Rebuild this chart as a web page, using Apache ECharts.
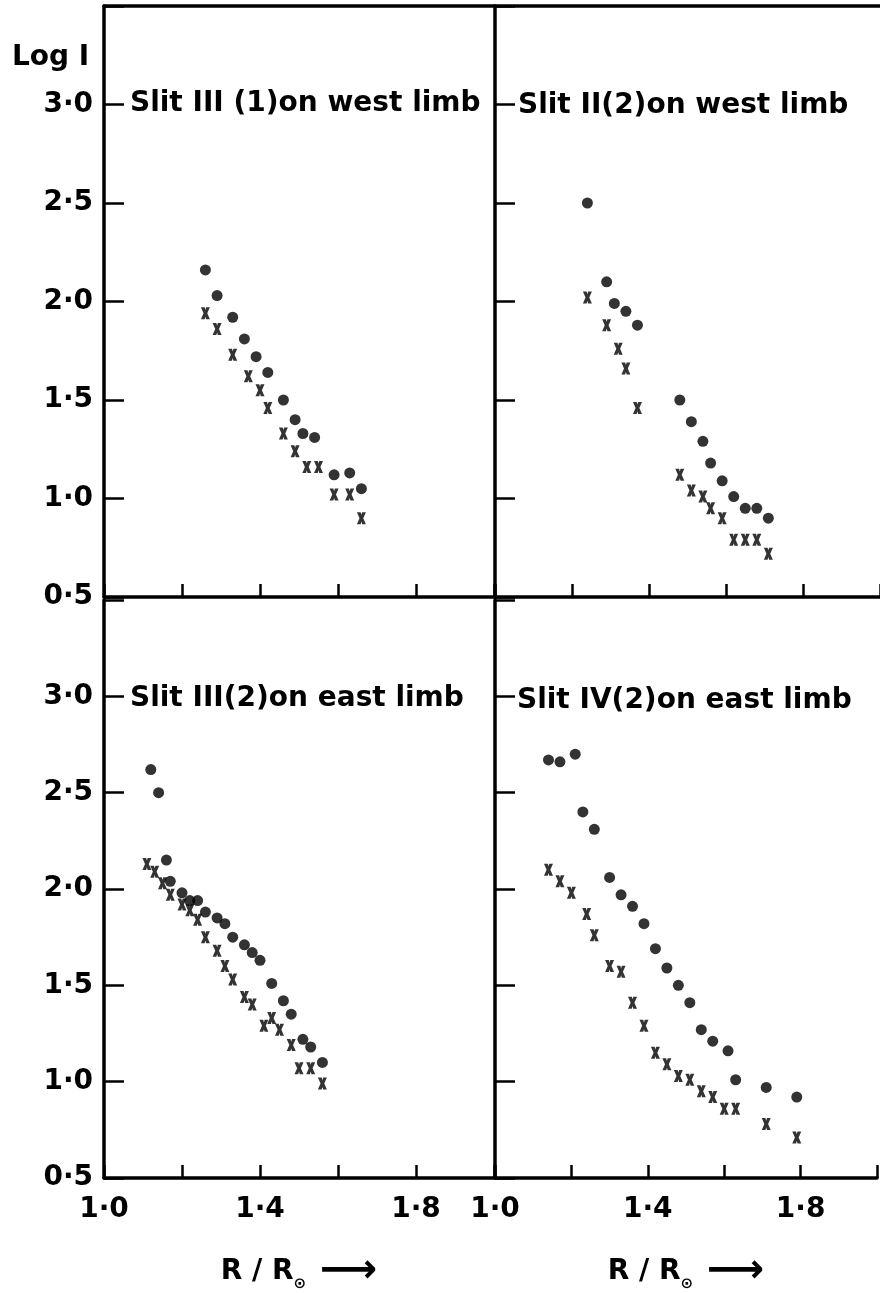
<!DOCTYPE html>
<html>
<head>
<meta charset="utf-8">
<script src="https://cdn.jsdelivr.net/npm/echarts@6/dist/echarts.min.js"></script>
<style>
  html, body { margin: 0; padding: 0; background: #ffffff; }
  #chart { width: 880px; height: 1293px; }
</style>
</head>
<body>
<div id="chart"></div>
<script>
// ---------- data ----------
const panelTitles = ['Slit III (1)on west limb', 'Slit II(2)on west limb', 'Slit III(2)on east limb', 'Slit IV(2)on east limb'];
const yAxisTitle = 'Log I';

const xTickValues = [1.0, 1.4, 1.8];
const xTickLabels = ['1·0', '1·4', '1·8'];
const yTickValues = [0.5, 1.0, 1.5, 2.0, 2.5, 3.0];
const yTickLabels = ['0·5', '1·0', '1·5', '2·0', '2·5', '3·0'];

// Slit III(1) on west limb (top-left)
const tlDotX   = [1.26, 1.29, 1.33, 1.36, 1.39, 1.42, 1.46, 1.49, 1.51, 1.54, 1.59, 1.63, 1.66];
const tlDotY   = [2.16, 2.03, 1.92, 1.81, 1.72, 1.64, 1.50, 1.40, 1.33, 1.31, 1.12, 1.13, 1.05];
const tlCrossX = [1.26, 1.29, 1.33, 1.37, 1.40, 1.42, 1.46, 1.49, 1.52, 1.55, 1.59, 1.63, 1.66];
const tlCrossY = [1.94, 1.86, 1.73, 1.62, 1.55, 1.46, 1.33, 1.24, 1.16, 1.16, 1.02, 1.02, 0.90];

// Slit II(2) on west limb (top-right)
const trDotX   = [1.24, 1.29, 1.31, 1.34, 1.37, 1.48, 1.51, 1.54, 1.56, 1.59, 1.62, 1.65, 1.68, 1.71];
const trDotY   = [2.50, 2.10, 1.99, 1.95, 1.88, 1.50, 1.39, 1.29, 1.18, 1.09, 1.01, 0.95, 0.95, 0.90];
const trCrossX = [1.24, 1.29, 1.32, 1.34, 1.37, 1.48, 1.51, 1.54, 1.56, 1.59, 1.62, 1.65, 1.68, 1.71];
const trCrossY = [2.02, 1.88, 1.76, 1.66, 1.46, 1.12, 1.04, 1.01, 0.95, 0.90, 0.79, 0.79, 0.79, 0.72];

// Slit III(2) on east limb (bottom-left)
const blDotX   = [1.12, 1.14, 1.16, 1.17, 1.20, 1.22, 1.24, 1.26, 1.29, 1.31, 1.33, 1.36, 1.38, 1.40, 1.43, 1.46, 1.48, 1.51, 1.53, 1.56];
const blDotY   = [2.62, 2.50, 2.15, 2.04, 1.98, 1.94, 1.94, 1.88, 1.85, 1.82, 1.75, 1.71, 1.67, 1.63, 1.51, 1.42, 1.35, 1.22, 1.18, 1.10];
const blCrossX = [1.11, 1.13, 1.15, 1.17, 1.20, 1.22, 1.24, 1.26, 1.29, 1.31, 1.33, 1.36, 1.38, 1.41, 1.43, 1.45, 1.48, 1.50, 1.53, 1.56];
const blCrossY = [2.13, 2.09, 2.03, 1.97, 1.92, 1.89, 1.84, 1.75, 1.68, 1.60, 1.53, 1.44, 1.40, 1.29, 1.33, 1.27, 1.19, 1.07, 1.07, 0.99];

// Slit IV(2) on east limb (bottom-right)
const brDotX   = [1.14, 1.17, 1.21, 1.23, 1.26, 1.30, 1.33, 1.36, 1.39, 1.42, 1.45, 1.48, 1.51, 1.54, 1.57, 1.61, 1.63, 1.71, 1.79];
const brDotY   = [2.67, 2.66, 2.70, 2.40, 2.31, 2.06, 1.97, 1.91, 1.82, 1.69, 1.59, 1.50, 1.41, 1.27, 1.21, 1.16, 1.01, 0.97, 0.92];
const brCrossX = [1.14, 1.17, 1.20, 1.24, 1.26, 1.30, 1.33, 1.36, 1.39, 1.42, 1.45, 1.48, 1.51, 1.54, 1.57, 1.60, 1.63, 1.71, 1.79];
const brCrossY = [2.10, 2.04, 1.98, 1.87, 1.76, 1.60, 1.57, 1.41, 1.29, 1.15, 1.09, 1.03, 1.01, 0.95, 0.92, 0.86, 0.86, 0.78, 0.71];

// ---------- chart ----------
const INK = '#000000';
const FONT = '"DejaVu Sans", sans-serif';
const WEIGHT = 'bold';
const zip = (xs, ys) => xs.map((x, i) => [x, ys[i]]);
const lookup = (vals, labels, v) => {
  for (let i = 0; i < vals.length; i++) if (Math.abs(vals[i] - v) < 1e-6) return labels[i];
  return '';
};
const crossPath = 'path://M0,0H5L6,3.5L7,0H12L8.5,8L12,16H7L6,12.5L5,16H0L3.5,8Z';

const panels = [
  { dots: zip(tlDotX, tlDotY), crosses: zip(tlCrossX, tlCrossY) },
  { dots: zip(trDotX, trDotY), crosses: zip(trCrossX, trCrossY) },
  { dots: zip(blDotX, blDotY), crosses: zip(blCrossX, blCrossY) },
  { dots: zip(brDotX, brDotY), crosses: zip(brCrossX, brCrossY) }
];

const grids = [
  { left: 104, top: 6,   width: 390, height: 591 },
  { left: 495, top: 6,   width: 390, height: 591 },
  { left: 104, top: 600, width: 390, height: 587 },
  { left: 495, top: 600, width: 390, height: 587 }
];

const axisLineStyle = { color: INK, width: 3.5 };
const xAxes = [];
const yAxes = [];
const series = [];

grids.forEach((g, i) => {
  const isBottom = i >= 2;
  const isLeft = i % 2 === 0;
  xAxes.push({
    type: 'value', gridIndex: i, position: 'bottom',
    min: 1.0, max: 2.0, interval: 0.2,
    axisLine: { show: true, lineStyle: axisLineStyle },
    axisTick: { show: true, inside: true, length: 13, lineStyle: { color: INK, width: 2.5 } },
    splitLine: { show: false },
    axisLabel: {
      show: isBottom, margin: 18, color: INK, fontSize: 28, fontWeight: WEIGHT, fontFamily: FONT,
      formatter: v => lookup(xTickValues, xTickLabels, v)
    },
    name: isBottom ? '{a|R / R}{s|⊙}{b| ⟶}' : '',
    nameLocation: 'middle', nameGap: 74,
    nameTextStyle: {
      rich: {
        a: { fontSize: 28, fontWeight: WEIGHT, fontFamily: FONT, color: INK, verticalAlign: 'middle', lineHeight: 40 },
        s: { fontSize: 15, fontWeight: WEIGHT, fontFamily: FONT, color: INK, verticalAlign: 'bottom', lineHeight: 40, padding: [14, 0, 0, 0] },
        b: { fontSize: 40, fontWeight: WEIGHT, fontFamily: FONT, color: INK, verticalAlign: 'middle', lineHeight: 40 }
      }
    }
  });
  yAxes.push({
    type: 'value', gridIndex: i, position: 'left',
    min: 0.5, max: 3.5, interval: 0.5,
    axisLine: { show: true, lineStyle: axisLineStyle },
    axisTick: { show: true, inside: true, length: 20, lineStyle: { color: INK, width: 2.5 } },
    splitLine: { show: false },
    axisLabel: {
      show: isLeft, margin: 11, color: INK, fontSize: 28, fontWeight: WEIGHT, fontFamily: FONT,
      formatter: v => lookup(yTickValues, yTickLabels, v)
    }
  });
});
// top frame lines of the upper panels
[0, 1].forEach(i => {
  xAxes.push({
    type: 'value', gridIndex: i, position: 'top',
    min: 1.0, max: 2.0,
    axisLine: { show: true, lineStyle: axisLineStyle },
    axisTick: { show: false }, axisLabel: { show: false }, splitLine: { show: false }
  });
});

panels.forEach((p, i) => {
  series.push({
    type: 'scatter', xAxisIndex: i, yAxisIndex: i,
    data: p.dots, symbol: 'circle', symbolSize: 11,
    itemStyle: { color: INK }, silent: true
  });
  series.push({
    type: 'scatter', xAxisIndex: i, yAxisIndex: i,
    data: p.crosses, symbol: crossPath, symbolSize: [9, 12],
    itemStyle: { color: INK }, silent: true
  });
});

const titlePos = [[130, 104], [518, 106], [130, 699], [517, 701]];
const graphic = titlePos.map((pos, i) => ({
  type: 'text', x: pos[0], y: pos[1], silent: true,
  style: { text: panelTitles[i], fill: INK, fontSize: 28, fontWeight: WEIGHT, fontFamily: FONT, verticalAlign: 'middle', align: 'left' }
}));
graphic.push({
  type: 'text', x: 12, y: 58, silent: true,
  style: { text: yAxisTitle, fill: INK, fontSize: 28, fontWeight: WEIGHT, fontFamily: FONT, verticalAlign: 'middle', align: 'left' }
});

const chart = echarts.init(document.getElementById('chart'), null, { renderer: 'canvas' });
chart.setOption({
  backgroundColor: '#ffffff',
  animation: false,
  grid: grids,
  xAxis: xAxes,
  yAxis: yAxes,
  series: series,
  graphic: graphic
});
</script>
</body>
</html>
